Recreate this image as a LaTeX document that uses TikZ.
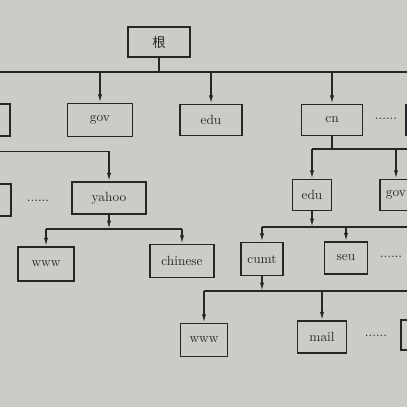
\documentclass[tikz,border=0pt]{standalone}
\usepackage{fontspec}
\newfontfamily\cjk{Noto Sans CJK SC}
\usetikzlibrary{arrows.meta}
\definecolor{paper}{RGB}{204,204,199}
\definecolor{ink}{RGB}{38,38,38}

\tikzset{
  box/.style 2 args={draw=ink, fill=paper, line width=1pt, text=ink,
    minimum width=#1*0.025cm, minimum height=#2*0.025cm, inner sep=0pt},
  arr/.style={ink, line width=1pt, -{Latex[length=6pt,width=3pt]}},
  wire/.style={ink, line width=1pt},
  more/.style={text=ink, inner sep=0pt}
}

\begin{document}
\begin{tikzpicture}[x=0.025cm, y=-0.025cm, font=\fontsize{9.5}{11}\selectfont]
  \fill[paper] (0,0) rectangle (407,407);
  \useasboundingbox (0,0) rectangle (407,407);
  \clip (0,0) rectangle (407,407);

  % top level
  \node[box={62}{30}] (root) at (159,42) {\cjk 根};
  \node[box={60}{32}] (com) at (-20,120) {};
  \node[box={65}{33}] (gov) at (100,120) {gov};
  \node[box={62}{31}] (edu) at (211,120) {edu};
  \node[box={61}{31}] (cn) at (332,120) {cn};
  \node[more] (dots1) at (386,119) {......};
  \node[box={60}{31}] (rt1) at (436,120) {};

  \coordinate (j0) at (0,72);
  \draw[wire] (root) -- (root.south |- j0);
  \draw[wire] (com.north |- j0) -- (rt1.north |- j0);
  \foreach \n in {com,gov,edu,cn,rt1}
    \draw[arr] (\n.north |- j0) -- (\n.north);

  % under com
  \node[box={60}{32}] (lt2) at (-19,200) {};
  \node[more] (dots2) at (38,201) {......};
  \node[box={74}{32}] (yahoo) at (109,198) {yahoo};
  \draw[arr] (com.south) -- ++(0,15) -| (yahoo.north);

  \node[box={56}{34}] (www) at (46,264) {www};
  \node[box={64}{33}] (chinese) at (182,261) {chinese};
  \coordinate (j1) at (0,229);
  \draw[arr] (yahoo.south) -- (yahoo.south |- j1);
  \draw[wire] (www.north |- j1) -- (chinese.north |- j1);
  \foreach \n in {www,chinese}
    \draw[arr] (\n.north |- j1) -- (\n.north);

  % under cn
  \node[box={39}{31}] (edu2) at (312,195) {edu};
  \node[box={32}{31}] (gov2) at (396,195) {gov};
  \coordinate (j2) at (0,149);
  \coordinate (cnmore) at (430,149);
  \draw[wire] (cn) -- (cn.south |- j2);
  \draw[wire] (edu2.north |- j2) -- (cnmore);
  \foreach \n in {edu2,gov2}
    \draw[arr] (\n.north |- j2) -- (\n.north);

  % under edu
  \node[box={42}{33}] (cumt) at (262,259) {cumt};
  \node[box={43}{32}] (seu) at (346,258) {seu};
  \node[more] (dots3) at (391,257) {......};
  \coordinate (j3) at (0,227);
  \coordinate (edumore) at (430,227);
  \draw[arr] (edu2.south) -- (edu2.south |- j3);
  \draw[wire] (cumt.north |- j3) -- (edumore);
  \foreach \n in {cumt,seu}
    \draw[arr] (\n.north |- j3) -- (\n.north);

  % under cumt
  \node[box={47}{33}] (www2) at (204,340) {www};
  \node[box={49}{32}] (mail) at (322,337) {mail};
  \node[more] (dots4) at (376,336) {......};
  \node[box={60}{30}] (rt4) at (431,335) {};
  \coordinate (j4) at (0,291);
  \coordinate (cumtmore) at (430,291);
  \draw[arr] (cumt.south) -- (cumt.south |- j4);
  \draw[wire] (www2.north |- j4) -- (cumtmore);
  \foreach \n in {www2,mail}
    \draw[arr] (\n.north |- j4) -- (\n.north);
\end{tikzpicture}
\end{document}
